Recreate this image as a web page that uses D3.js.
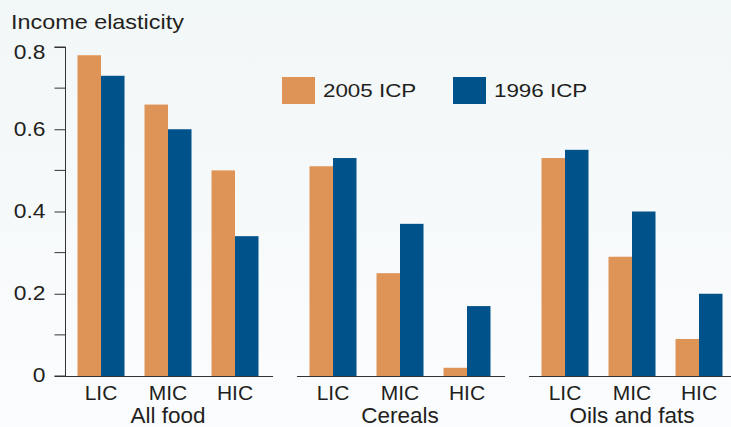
<!DOCTYPE html>
<html>
<head>
<script src="https://d3js.org/d3.v7.min.js"></script>
<style>
  body { margin: 0; background: #f6f9fa; font-family: 'Liberation Sans', Arial, sans-serif; }
  svg { display: block; }
  text { fill: #231f20; }
</style>
</head>
<body>
<div id="chart"></div>
<script>
// Data
const groups = ["All food", "Cereals", "Oils and fats"];
const incomeGroups = ["LIC", "MIC", "HIC"];
const seriesNames = ["2005 ICP", "1996 ICP"];
const icp2005 = [0.78, 0.66, 0.50, 0.51, 0.25, 0.02, 0.53, 0.29, 0.09];
const icp1996 = [0.73, 0.60, 0.34, 0.53, 0.37, 0.17, 0.55, 0.40, 0.20];
const yTicks = [0, 0.2, 0.4, 0.6, 0.8];
const yMinorTicks = [0.1, 0.3, 0.5, 0.7];

const colors = { "2005 ICP": "#df9457", "1996 ICP": "#00528a" };

const width = 731, height = 427;
const svg = d3.select("#chart").append("svg")
    .attr("width", width)
    .attr("height", height);

// stretch text horizontally about its own x position
function widen(sel, sx) {
    sel.attr("transform", function () {
        const x = +this.getAttribute("x") || 0;
        return `translate(${x},0) scale(${sx},1) translate(${-x},0)`;
    });
}

// background gradient
const grad = svg.append("defs").append("linearGradient")
    .attr("id", "bg").attr("x1", 0).attr("y1", 0).attr("x2", 0).attr("y2", 1);
grad.append("stop").attr("offset", "0%").attr("stop-color", "#f2f7f7");
grad.append("stop").attr("offset", "100%").attr("stop-color", "#fbfcfe");
svg.append("rect").attr("width", width).attr("height", height).attr("fill", "url(#bg)");

const axisX = 65;
const y = d3.scaleLinear().domain([0, 0.8]).range([376, 47]);

const x0 = d3.scaleBand().domain(groups).range([axisX, 737]).paddingInner(24 / 232).paddingOuter(0);
const x1 = d3.scaleBand().domain(incomeGroups).range([2.5, x0.bandwidth() - 4.5])
    .paddingInner(0.2985).paddingOuter(0.1493);
const x2 = d3.scaleBand().domain(seriesNames).range([0, x1.bandwidth()]);

const rows = [];
groups.forEach((g, gi) => {
    incomeGroups.forEach((c, ci) => {
        const i = gi * 3 + ci;
        rows.push({ group: g, cat: c, "2005 ICP": icp2005[i], "1996 ICP": icp1996[i] });
    });
});

// bars
const gGroups = svg.append("g").selectAll("g")
    .data(groups).join("g")
    .attr("transform", d => `translate(${x0(d)},0)`);

gGroups.selectAll("g.cat")
    .data(g => rows.filter(r => r.group === g))
    .join("g").attr("class", "cat")
    .attr("transform", d => `translate(${x1(d.cat)},0)`)
    .selectAll("rect")
    .data(d => seriesNames.map(s => ({ s, v: d[s] })))
    .join("rect")
    .attr("x", d => x2(d.s))
    .attr("width", x2.bandwidth())
    .attr("y", d => y(d.v))
    .attr("height", d => y(0) - y(d.v))
    .attr("fill", d => colors[d.s]);

// group baselines
gGroups.append("line")
    .attr("x1", 0).attr("x2", x0.bandwidth())
    .attr("y1", y(0) + 0.5).attr("y2", y(0) + 0.5)
    .attr("stroke", "#333").attr("stroke-width", 1);

// category labels
gGroups.selectAll("text.cat")
    .data(incomeGroups).join("text").attr("class", "cat")
    .attr("x", d => x1(d) + x1.bandwidth() / 2)
    .attr("y", 400)
    .attr("text-anchor", "middle")
    .attr("font-size", 21)
    .text(d => d);

gGroups.append("text")
    .attr("x", x1("MIC") + x1.bandwidth() / 2)
    .attr("y", 423)
    .attr("text-anchor", "middle")
    .attr("font-size", 22.5)
    .text(d => d);

// y axis
const yAxis = d3.axisLeft(y).tickValues(yTicks).tickSize(11).tickPadding(9)
    .tickFormat(d => d === 0 ? "0" : d3.format(".1f")(d));
const ax = svg.append("g").attr("transform", `translate(${axisX + 0.5},0)`).call(yAxis);
ax.select(".domain").attr("stroke", "#333").attr("d", `M-11,${y(0.8)}H0V${y(0)}H-11`);
ax.selectAll(".tick line").attr("stroke", "#333");
ax.selectAll(".tick text")
    .attr("font-size", 19.5)
    .attr("font-family", "'Liberation Sans', Arial, sans-serif")
    .attr("fill", "#231f20")
    .attr("dy", d => d === 0.8 ? "0.58em" : "0.3em")
    .call(widen, 1.17);
ax.selectAll(".minor").data(yMinorTicks).join("line").attr("class", "minor")
    .attr("x1", -11).attr("x2", 0)
    .attr("y1", d => y(d)).attr("y2", d => y(d))
    .attr("stroke", "#333");

// axis title
svg.append("text").attr("x", 11).attr("y", 29).attr("font-size", 20)
    .text("Income elasticity").call(widen, 1.17);

// legend
const legend = svg.append("g").selectAll("g").data(seriesNames).join("g")
    .attr("transform", (d, i) => `translate(${282 + i * 171},77)`);
legend.append("rect").attr("width", 33).attr("height", 27).attr("fill", d => colors[d]);
legend.append("text").attr("x", 41).attr("y", 20).attr("font-size", 17.5)
    .text(d => d).call(widen, 1.28);
</script>
</body>
</html>
